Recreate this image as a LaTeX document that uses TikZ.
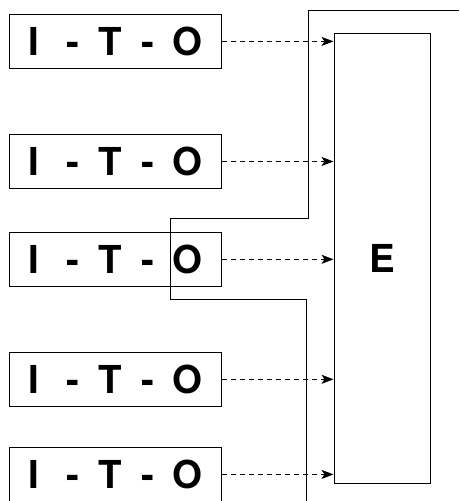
\documentclass[tikz,border=0pt]{standalone}
\usepackage{fontspec}
\setmainfont{TeX Gyre Heros}
\usetikzlibrary{positioning,arrows.meta,calc}
\newcommand{\ito}{I\hspace{27pt}-\hspace{20pt}T\hspace{19pt}-\hspace{18pt}O}

\begin{document}
\begin{tikzpicture}[x=1pt,y=-1pt,
  itobox/.style={draw,line width=0.9pt,minimum width=212.7pt,minimum height=54.7pt,inner sep=0pt,
    font=\fontsize{38.5}{40}\selectfont\bfseries},
  ebox/.style={draw,line width=0.9pt,minimum width=96.7pt,minimum height=450pt,inner sep=0pt,
    font=\fontsize{38.5}{40}\selectfont\bfseries},
  feed/.style={dashed,dash pattern=on 5pt off 4pt,line width=0.7pt,-{Stealth[length=12pt,width=9pt,inset=3pt]}},
  border/.style={line width=0.9pt}]
  \useasboundingbox (0,0) rectangle (459,501);
  % the five I-T-O units
  \node[itobox] (io1) at (115.3,41.4) {\ito};
  \node[itobox] (io2) at (115.3,161.5) {\ito};
  \node[itobox] (io3) at (115.3,259.3) {\ito};
  \node[itobox] (io4) at (115.3,379.3) {\ito};
  \node[itobox] (io5) at (115.3,474.4) {\ito};
  \node[ebox] (e) at (382.3,258) {E};
  \foreach \i in {1,...,5} {
    \draw[feed] (io\i.east) -- (io\i.east -| e.west);
  }
  % outline round the third unit
  \coordinate (b0) at (459,10.7);
  \coordinate (b1) at (308,10.7);
  \coordinate (b2) at (308,218.3);
  \coordinate (b3) at (170,218.3);
  \coordinate (b4) at (170,299.3);
  \coordinate (b5) at (306.7,299.3);
  \coordinate (b6) at (306.7,501);
  \draw[border] (b0) -- (b1) -- (b2) -- (b3) -- (b4) -- (b5) -- (b6);
\end{tikzpicture}
\end{document}
